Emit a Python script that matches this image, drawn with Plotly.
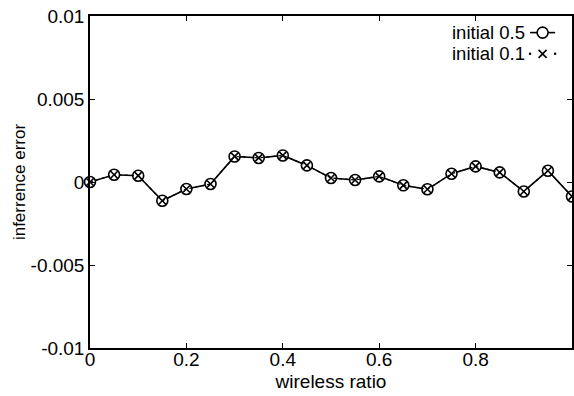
import plotly.graph_objects as go

wireless_ratio = [0.0, 0.05, 0.1, 0.15, 0.2, 0.25, 0.3, 0.35, 0.4, 0.45, 0.5,
                  0.55, 0.6, 0.65, 0.7, 0.75, 0.8, 0.85, 0.9, 0.95, 1.0]
err_initial_05 = [0.0, 0.00044, 0.00038, -0.00113, -0.00042, -0.00012, 0.00154, 0.00145,
                  0.0016, 0.001, 0.00024, 0.00012, 0.00034, -0.0002, -0.00044, 0.0005,
                  0.00094, 0.00058, -0.00057, 0.00068, -0.00087]
err_initial_01 = list(err_initial_05)
series_names = ["initial 0.5", "initial 0.1"]

x_ticks = [0, 0.2, 0.4, 0.6, 0.8, 1]
x_ticktext = ["0", "0.2", "0.4", "0.6", "0.8", "1"]
y_ticks = [-0.01, -0.005, 0, 0.005, 0.01]
y_ticktext = ["-0.01", "-0.005", "0", "0.005", "0.01"]

FONT = "Liberation Sans, Arial, Helvetica, sans-serif"

fig = go.Figure()
fig.add_trace(go.Scatter(
    x=wireless_ratio, y=err_initial_05, mode="lines+markers", name=series_names[0],
    line=dict(color="black", width=1.6),
    marker=dict(symbol="circle", size=11, color="white", line=dict(color="black", width=1.6)),
    cliponaxis=False, showlegend=False))
fig.add_trace(go.Scatter(
    x=wireless_ratio, y=err_initial_01, mode="lines+markers", name=series_names[1],
    line=dict(color="black", width=1.2, dash="dot"),
    marker=dict(symbol="x-thin-open", size=7, color="black", line=dict(color="black", width=1.6)),
    cliponaxis=False, showlegend=False))

# legend samples on an overlay axis (domain fractions)
leg_y = [0.95, 0.886]
fig.add_trace(go.Scatter(x=[0.913, 0.965], y=[leg_y[0]] * 2, xaxis="x2", yaxis="y2",
                         mode="lines", line=dict(color="black", width=1.6), showlegend=False,
                         hoverinfo="skip"))
fig.add_trace(go.Scatter(x=[0.939], y=[leg_y[0]], xaxis="x2", yaxis="y2", mode="markers",
                         marker=dict(symbol="circle", size=11, color="white",
                                     line=dict(color="black", width=1.6)),
                         showlegend=False, hoverinfo="skip"))
fig.add_trace(go.Scatter(x=[0.913, 0.965], y=[leg_y[1]] * 2, xaxis="x2", yaxis="y2",
                         mode="markers", marker=dict(symbol="circle", size=2.5, color="black"),
                         showlegend=False, hoverinfo="skip"))
fig.add_trace(go.Scatter(x=[0.939], y=[leg_y[1]], xaxis="x2", yaxis="y2", mode="markers",
                         marker=dict(symbol="x-thin-open", size=8, color="black",
                                     line=dict(color="black", width=1.6)),
                         showlegend=False, hoverinfo="skip"))

for name, yy in zip(series_names, leg_y):
    fig.add_annotation(xref="x2", yref="y2", x=0.906, y=yy, text=name, showarrow=False,
                       xanchor="right", yanchor="middle", font=dict(size=18.5, color="black"))

axis_common = dict(showgrid=False, zeroline=False, showline=True, linecolor="black",
                   linewidth=1.5, mirror="ticks", ticks="inside", ticklen=5,
                   tickcolor="black", tickwidth=1.2,
                   tickfont=dict(size=19, color="black", family=FONT))

fig.update_layout(
    width=574, height=396,
    margin=dict(l=90, r=0, t=16, b=48),
    plot_bgcolor="white", paper_bgcolor="white",
    font=dict(family=FONT, size=19, color="black"),
    xaxis=dict(range=[0, 1], tickvals=x_ticks, ticktext=x_ticktext, ticklabelstandoff=-7,
               title=dict(text="wireless ratio", font=dict(size=19), standoff=6),
               **axis_common),
    yaxis=dict(range=[-0.01, 0.01], tickvals=y_ticks, ticktext=y_ticktext,
               title=dict(text="inferrence error", font=dict(size=17), standoff=1),
               **axis_common),
    xaxis2=dict(range=[0, 1], overlaying="x", visible=False),
    yaxis2=dict(range=[0, 1], overlaying="y", visible=False),
)

fig.write_html("out.html")
